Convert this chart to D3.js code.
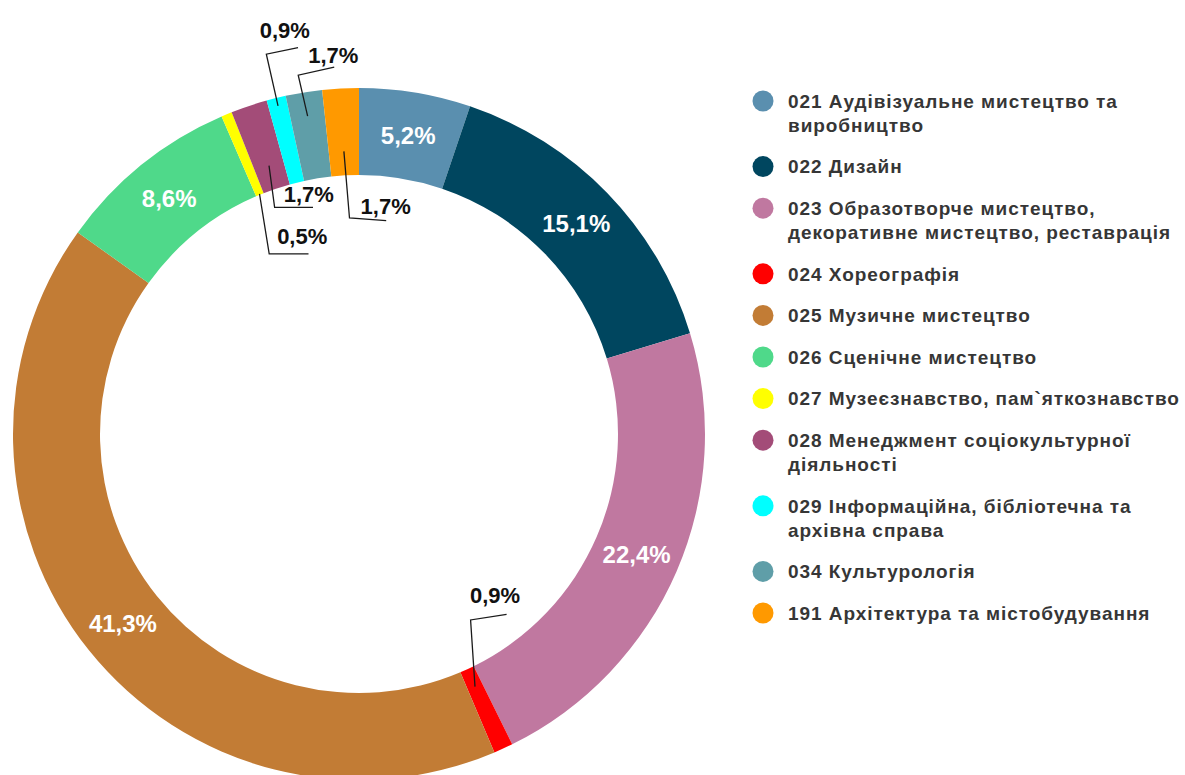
<!DOCTYPE html>
<html>
<head>
<meta charset="utf-8">
<script src="https://cdn.jsdelivr.net/npm/d3@7"></script>
<style>
  html, body { margin: 0; padding: 0; background: #ffffff; }
  svg { display: block; }
</style>
</head>
<body>
<svg id="chart" width="1185" height="775"></svg>
<script>
// ---- data ----
// "|" marks where the legend entry wraps to a second line
const categories = [
  "021 Аудівізуальне мистецтво та|виробництво",
  "022 Дизайн",
  "023 Образотворче мистецтво,|декоративне мистецтво, реставрація",
  "024 Хореографія",
  "025 Музичне мистецтво",
  "026 Сценічне мистецтво",
  "027 Музеєзнавство, пам`яткознавство",
  "028 Менеджмент соціокультурної|діяльності",
  "029 Інформаційна, бібліотечна та|архівна справа",
  "034 Культурологія",
  "191 Архітектура та містобудування"
];
const values = [5.2, 15.1, 22.4, 0.9, 41.3, 8.6, 0.5, 1.7, 0.9, 1.7, 1.7];
const valueLabels = ["5,2%", "15,1%", "22,4%", "0,9%", "41,3%", "8,6%", "0,5%", "1,7%", "0,9%", "1,7%", "1,7%"];

// ---- styles / layout ----
const colors = ["#5A8FAF", "#00465F", "#C078A0", "#FF0000", "#C27C35", "#4FD98A",
                "#FFFF00", "#A34C78", "#00FFFF", "#5F9EA8", "#FF9900"];
const cx = 359, cy = 434, rOuter = 346, rInner = 259;
const insideMin = 5; // values >= this get labels inside the ring
// outside label layout: anchor radius, elbow offset from anchor, end offset from elbow, text offset from end
const outsideLayout = {
  3:  {r: 278, elbow: [-4.4, -66.7], end: [36, -5.6],  text: [-11.6, -11]},
  6:  {r: 260, elbow: [9.7, 60],     end: [39.3, 0],   text: [-6.3, -10]},
  7:  {r: 283, elbow: [5.6, 41.7],   end: [38.4, 0],   text: [-4.2, -5]},
  8:  {r: 338, elbow: [-11.7, -51.7],end: [31.7, -6.6],text: [-13.3, -9.7]},
  9:  {r: 322, elbow: [-9.4, -41],   end: [36, -8],    text: [-1, -4.3]},
  10: {r: 283, elbow: [5.6, 66.6],   end: [36.7, 2.7], text: [-0.5, -6.7]}
};
const fontFamily = "'Liberation Sans', Arial, Helvetica, sans-serif";

const svg = d3.select("#chart");
const g = svg.append("g").attr("transform", `translate(${cx},${cy})`);

const pie = d3.pie().sort(null).value(d => d).startAngle(0).endAngle(2 * Math.PI);
const arcs = pie(values);
const arc = d3.arc().innerRadius(rInner).outerRadius(rOuter);

g.selectAll("path.slice")
  .data(arcs)
  .join("path")
  .attr("class", "slice")
  .attr("d", arc)
  .attr("fill", (d, i) => colors[i]);

// inside labels
const midArc = d3.arc().innerRadius((rInner + rOuter) / 2).outerRadius((rInner + rOuter) / 2);
g.selectAll("text.inlabel")
  .data(arcs.filter(d => d.value >= insideMin))
  .join("text")
  .attr("class", "inlabel")
  .attr("transform", d => `translate(${midArc.centroid(d)})`)
  .attr("text-anchor", "middle")
  .attr("dy", "0.36em")
  .attr("fill", "#ffffff")
  .attr("font-family", fontFamily)
  .attr("font-weight", "bold")
  .attr("font-size", 24)
  .text(d => valueLabels[d.index]);

// outside labels with leader lines
arcs.forEach((d, i) => {
  const L = outsideLayout[i];
  if (!L) return;
  const mid = (d.startAngle + d.endAngle) / 2;
  const ax = L.r * Math.sin(mid), ay = -L.r * Math.cos(mid);
  const ex = ax + L.elbow[0], ey = ay + L.elbow[1];
  const tx = ex + L.end[0], ty = ey + L.end[1];
  g.append("path")
    .attr("d", d3.line()([[ax, ay], [ex, ey], [tx, ty]]))
    .attr("fill", "none")
    .attr("stroke", "#1a1a1a")
    .attr("stroke-width", 1.3);
  g.append("text")
    .attr("x", tx + L.text[0])
    .attr("y", ty + L.text[1])
    .attr("text-anchor", "middle")
    .attr("fill", "#111111")
    .attr("font-family", fontFamily)
    .attr("font-weight", "bold")
    .attr("font-size", 22)
    .text(valueLabels[i]);
});

// legend
const legendX = 763, legendTextX = 788, legendTop = 101;
const lineH = 24, itemGap = 41.6, legendFont = 19;
const legend = svg.append("g");
let y = legendTop;
categories.forEach((name, i) => {
  const lines = name.split("|");
  const t = legend.append("text")
    .attr("x", legendTextX)
    .attr("y", y)
    .attr("fill", "#363636")
    .attr("font-family", fontFamily)
    .attr("font-weight", "bold")
    .attr("font-size", legendFont)
    .attr("letter-spacing", 0.95);
  lines.forEach((ln, k) => {
    t.append("tspan").attr("x", legendTextX).attr("dy", k === 0 ? "0.36em" : lineH).text(ln);
  });
  legend.append("circle")
    .attr("cx", legendX)
    .attr("cy", y)
    .attr("r", 10.5)
    .attr("fill", colors[i]);
  y += (lines.length - 1) * lineH + itemGap;
});
</script>
</body>
</html>
